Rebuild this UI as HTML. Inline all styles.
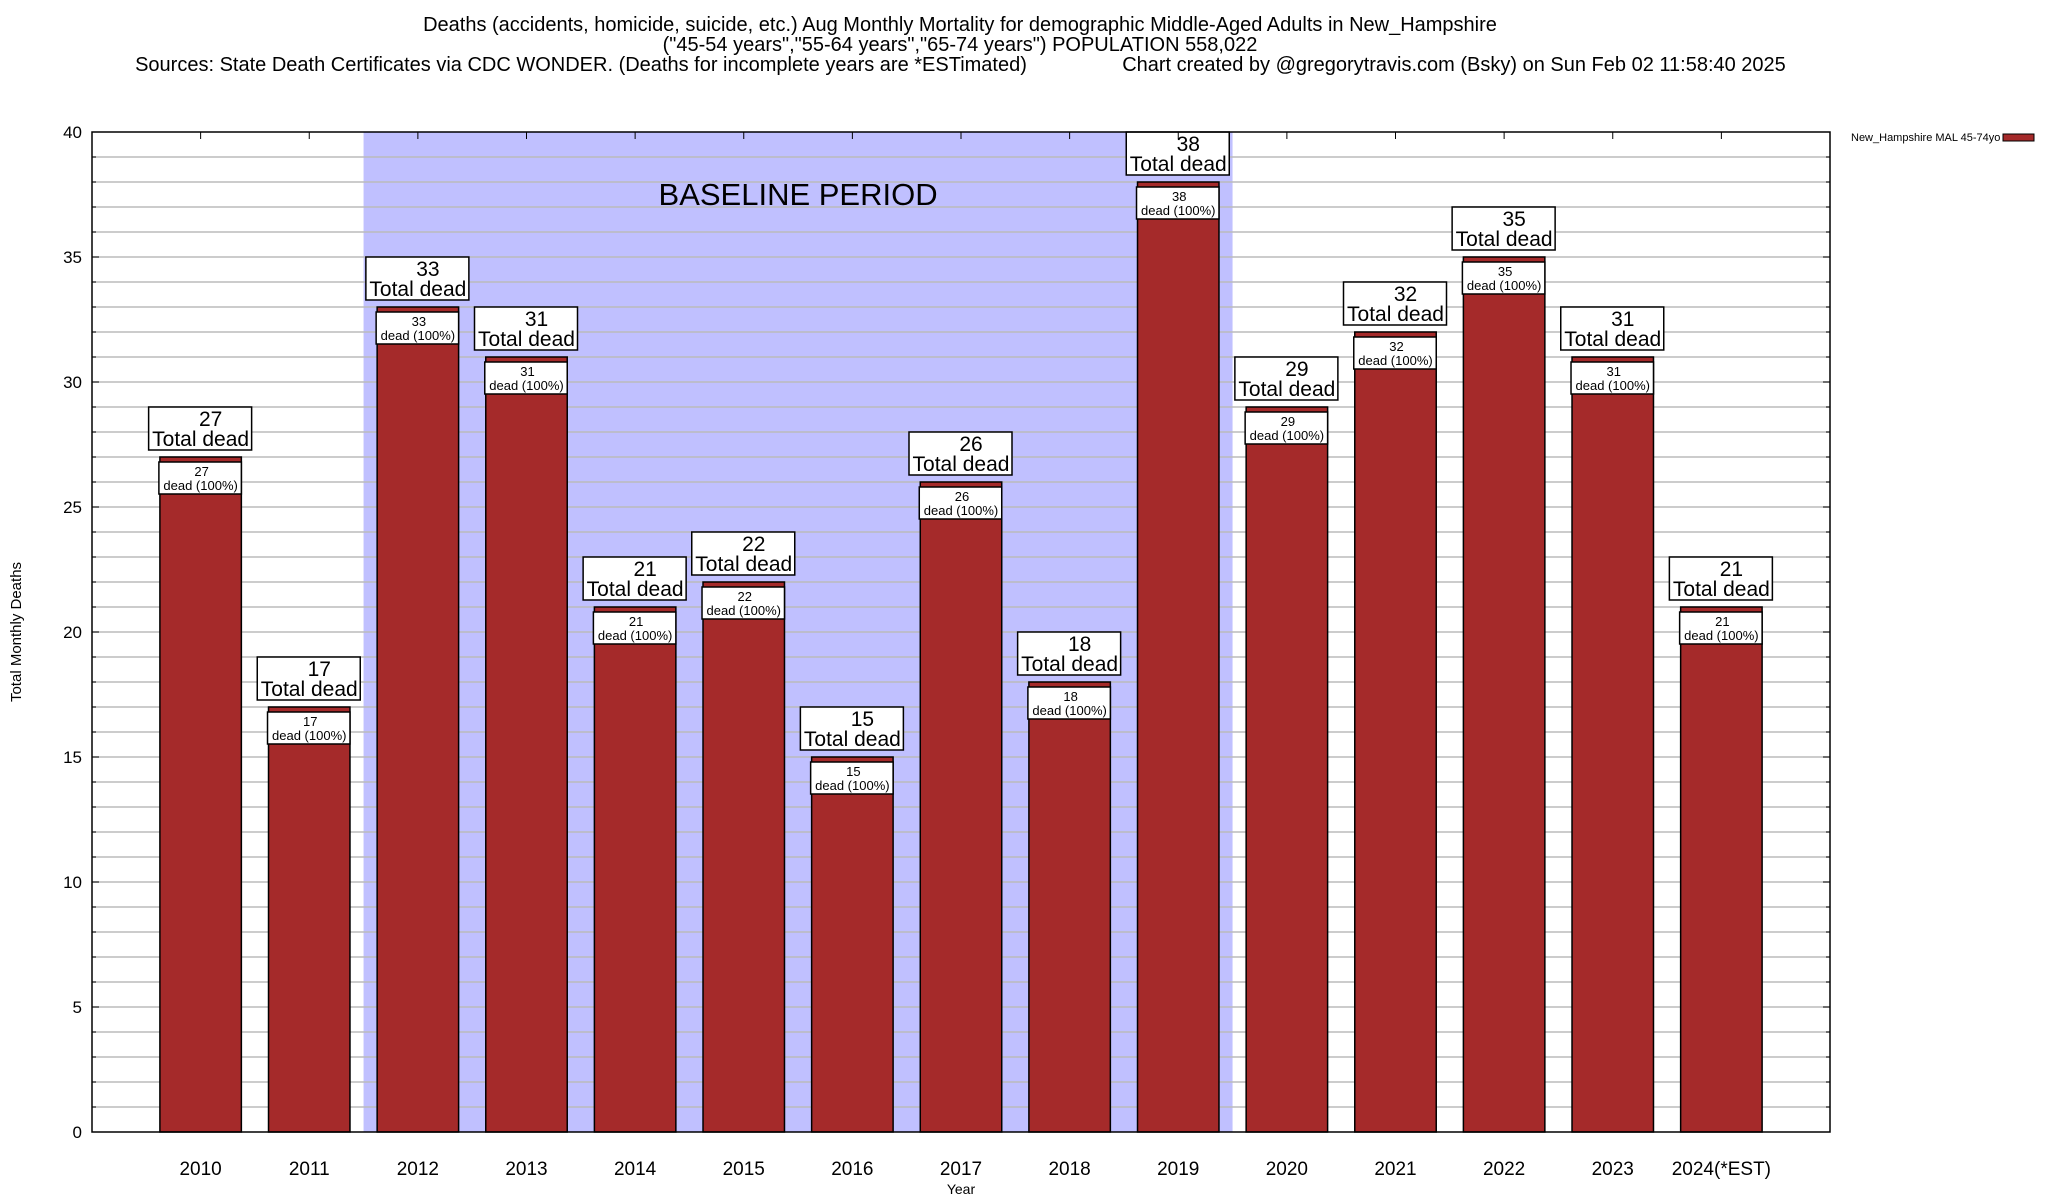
<!DOCTYPE html>
<html><head><meta charset="utf-8"><style>
html,body{margin:0;padding:0;background:#fff;}
svg{display:block;font-family:"Liberation Sans",Arial,sans-serif;}
</style></head><body>
<svg id="chart" width="2048" height="1200" viewBox="0 0 2048 1200" xmlns="http://www.w3.org/2000/svg">
<g font-size="20" text-anchor="middle" fill="#000">
<text x="960" y="31">Deaths (accidents, homicide, suicide, etc.) Aug Monthly Mortality for demographic Middle-Aged Adults in New_Hampshire</text>
<text x="960" y="51">("45-54 years","55-64 years","65-74 years") POPULATION 558,022</text>
<text x="581" y="71">Sources: State Death Certificates via CDC WONDER. (Deaths for incomplete years are *ESTimated)</text>
<text x="1454" y="71">Chart created by @gregorytravis.com (Bsky) on Sun Feb 02 11:58:40 2025</text>
</g>
<g id="plot"></g>
</svg>
<script>
const categories = ["2010","2011","2012","2013","2014","2015","2016","2017","2018","2019","2020","2021","2022","2023","2024(*EST)"];
const deaths = [27,17,33,31,21,22,15,26,18,38,29,32,35,31,21];
const yTicks = [0,5,10,15,20,25,30,35,40];
const baselineRange = [2, 9];

const L=92,R=1830,T=132,B=1132,YMAX=40;
const slot=(R-L)/16;
const xS=i=>L+(i+1)*slot;
const yS=v=>B-(v/YMAX)*(B-T);
const NS="http://www.w3.org/2000/svg";
const g=document.getElementById('plot');
function el(tag,attrs,parent,txt){const e=document.createElementNS(NS,tag);for(const k in attrs)e.setAttribute(k,attrs[k]);if(txt!==undefined)e.textContent=txt;(parent||g).appendChild(e);return e;}

let bs=el('rect',{x:xS(baselineRange[0]-0.5),y:T,width:xS(baselineRange[1]+0.5)-xS(baselineRange[0]-0.5),height:B-T,fill:'#c0c0ff'});


let bt=el('text',{x:(xS(baselineRange[0]-0.5)+xS(baselineRange[1]+0.5))/2,y:205,'font-size':31,'text-anchor':'middle'},g,'BASELINE PERIOD');



for(let v=1;v<YMAX;v++){
  let l=el('line',{x1:L,x2:R,y1:yS(v),y2:yS(v),stroke:'#bbbbbb','stroke-width':1.5});
  
  
  el('line',{x1:L,x2:L+(v%5?4:7),y1:yS(v),y2:yS(v),stroke:'#000'});
  el('line',{x1:R,x2:R-(v%5?4:7),y1:yS(v),y2:yS(v),stroke:'#000'});
}
yTicks.forEach(v=>{
  let t=el('text',{x:82,y:yS(v)+6,'font-size':17,'text-anchor':'end'},g,String(v));
  
  
});

const bw=slot*0.75;
deaths.forEach((v,i)=>{
  const cx=xS(i);
  let b=el('rect',{x:cx-bw/2,y:yS(v),width:bw,height:B-yS(v),fill:'#a52a2a',stroke:'#000','stroke-width':1.5});
  
  
  let ib=el('rect',{x:cx-bw/2-1,y:yS(v)+5,width:bw+1,height:32,fill:'#fff',stroke:'#000','stroke-width':1.5});
  
  
  el('text',{x:cx+1,y:yS(v)+19,'font-size':13,'text-anchor':'middle'},g,String(v));
  el('text',{x:cx,y:yS(v)+33,'font-size':13,'text-anchor':'middle'},g,'dead (100%)');
  let tb=el('rect',{x:cx-52,y:yS(v)-50,width:103,height:43,fill:'#fff',stroke:'#000','stroke-width':1.5});
  
  
  el('text',{x:cx+10,y:yS(v)-31,'font-size':21,'text-anchor':'middle'},g,String(v));
  el('text',{x:cx,y:yS(v)-11,'font-size':21,'text-anchor':'middle'},g,'Total dead');
  el('line',{x1:cx,x2:cx,y1:T,y2:T+7,stroke:'#000'});
  let xl=el('text',{x:cx,y:1175,'font-size':19,'text-anchor':'middle'},g,categories[i]);
  
  
});

let fr=el('rect',{x:L,y:T,width:R-L,height:B-T,fill:'none',stroke:'#000','stroke-width':1.5});



let xt=el('text',{x:961,y:1194,'font-size':14,'text-anchor':'middle'},g,'Year');


let yt=el('text',{x:0,y:0,'font-size':15,'text-anchor':'middle',transform:'translate(21,632) rotate(-90)'},g,'Total Monthly Deaths');



let lt=el('text',{x:1851,y:141,'font-size':11},g,'New_Hampshire MAL 45-74yo');


let ls=el('rect',{x:2003,y:134,width:31,height:7,fill:'#a52a2a',stroke:'#000','stroke-width':1});


</script>
</body></html>
